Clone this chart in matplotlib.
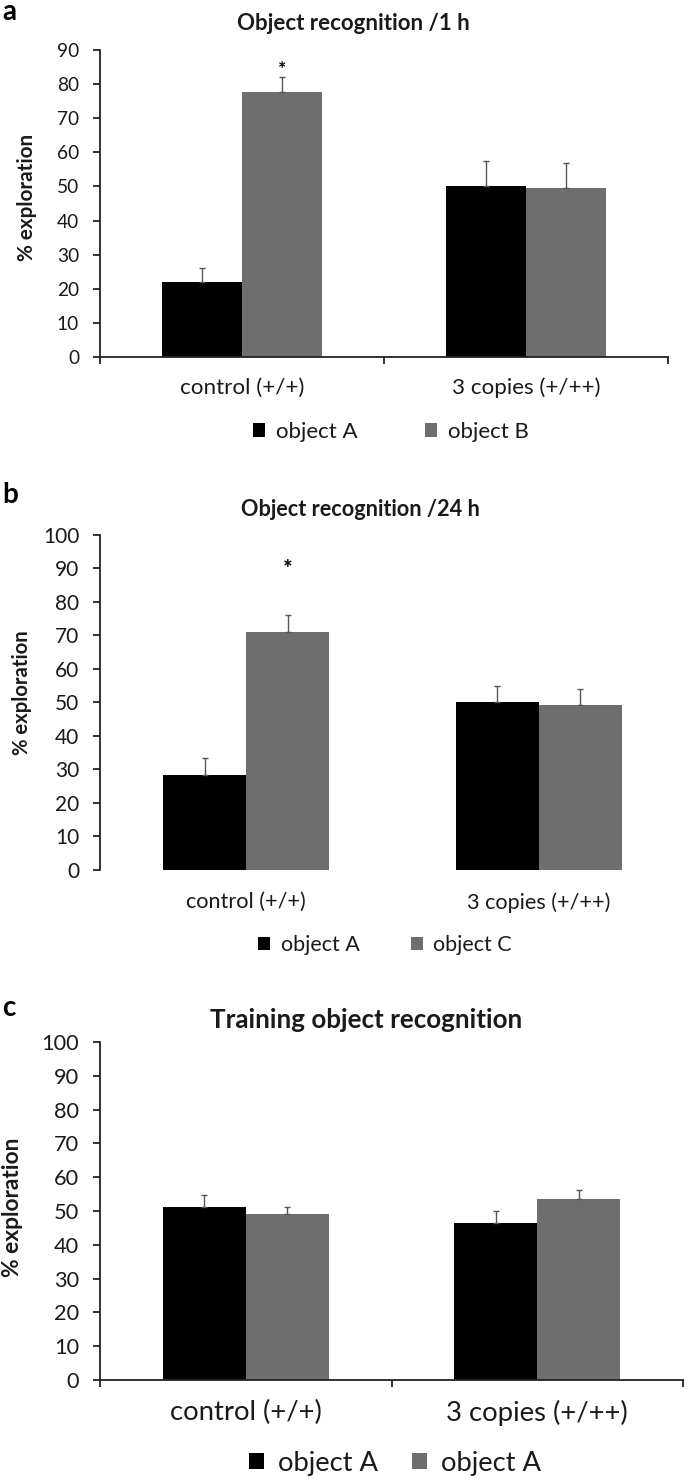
import numpy as np
import matplotlib
matplotlib.use('Agg')
import matplotlib.pyplot as plt
from matplotlib.patches import Patch

plt.rcParams['font.family'] = ['Lato', 'DejaVu Sans']

# categories et séries
groups = ['control (+/+)', '3 copies (+/++)']

# a : reconnaissance d'objet / 1 h
a_objA = [22.0, 50.2]
a_objA_err = [4.2, 7.3]
a_objB = [77.8, 49.5]
a_objB_err = [4.2, 7.3]
a_labels = ['object A', 'object B']

# b : reconnaissance d'objet / 24 h
b_objA = [28.4, 50.2]
b_objA_err = [4.9, 4.7]
b_objC = [71.1, 49.3]
b_objC_err = [5.0, 4.7]
b_labels = ['object A', 'object C']

# c : entraînement
c_objA1 = [51.2, 46.5]
c_objA1_err = [3.4, 3.5]
c_objA2 = [49.0, 53.5]
c_objA2_err = [2.3, 2.7]
c_labels = ['object A', 'object A']

black = '#000000'
grey = '#6e6e6e'
txt = '#1a1a1a'

W, H = 689, 1484
fig = plt.figure(figsize=(W / 100, H / 100), dpi=100)
renderer = fig.canvas.get_renderer()


def fit(s, width_px, weight='normal'):
    # taille de police (pt) pour que le texte fasse width_px de large
    t = fig.text(0, 0, s, fontsize=10, fontweight=weight)
    w = t.get_window_extent(renderer).width
    t.remove()
    return 10 * width_px / w


def rect(x0, x1, ytop, ybot):
    return [x0 / W, 1 - ybot / H, (x1 - x0) / W, (ybot - ytop) / H]


def panel(ax, s1, e1, s2, e2, ymax, width, tick_fs, cat_fs, cat_pad, xaxis=True):
    x = np.arange(len(groups))
    ax.bar(x - width / 2, s1, width, color=black, zorder=2)
    ax.bar(x + width / 2, s2, width, color=grey, zorder=2)
    ax.errorbar(x - width / 2, s1, yerr=[np.zeros(len(e1)), e1], fmt='none',
                ecolor='#555555', elinewidth=1, capsize=2.5, capthick=1, zorder=3)
    ax.errorbar(x + width / 2, s2, yerr=[np.zeros(len(e2)), e2], fmt='none',
                ecolor='#555555', elinewidth=1, capsize=2.5, capthick=1, zorder=3)
    ax.set_xlim(-0.5, 1.5)
    ax.set_ylim(0, ymax)
    ax.set_yticks(np.arange(0, ymax + 1, 10))
    ax.spines['top'].set_visible(False)
    ax.spines['right'].set_visible(False)
    ax.spines['left'].set_color('#222222')
    ax.spines['left'].set_linewidth(1.3)
    ax.tick_params(axis='y', length=5, width=1.3, color='#222222', labelsize=tick_fs,
                   labelcolor=txt, pad=10)
    ax.set_xticks(x)
    ax.set_xticklabels(groups, fontsize=cat_fs, color=txt)
    ax.tick_params(axis='x', which='major', length=0, pad=cat_pad)
    if xaxis:
        ax.spines['bottom'].set_color('#222222')
        ax.spines['bottom'].set_linewidth(1.3)
        ax.set_xticks([-0.5, 0.5, 1.5], minor=True)
        ax.tick_params(axis='x', which='minor', length=5, width=1.3, color='#222222')
    else:
        ax.spines['bottom'].set_visible(False)


# panneau a
ax1 = fig.add_axes(rect(100, 668, 50, 357))
panel(ax1, a_objA, a_objA_err, a_objB, a_objB_err, 90, 0.28,
      fit('90', 22), fit('3 copies (+/++)', 148), 15)
ax1.text(0.14, 84.2, '*', ha='center', va='center', fontsize=14, fontweight='bold')

# panneau b
ax2 = fig.add_axes(rect(100, 685, 535, 870))
panel(ax2, b_objA, b_objA_err, b_objC, b_objC_err, 100, 0.284,
      fit('90', 24), fit('3 copies (+/++)', 143), 16, xaxis=False)
ax2.text(0.142, 89.6, '*', ha='center', va='center', fontsize=16, fontweight='bold')

# panneau c
ax3 = fig.add_axes(rect(100, 683, 1042, 1380))
panel(ax3, c_objA1, c_objA1_err, c_objA2, c_objA2_err, 100, 0.285,
      fit('90', 25), fit('3 copies (+/++)', 182), 14)

# titres
for s, xx, yy, wpx in [('Object recognition /1 h', 353, 23, 233),
                       ('Object recognition /24 h', 360, 510, 239),
                       ('Training object recognition', 366, 1020, 312)]:
    fig.text(xx / W, 1 - yy / H, s, ha='center', va='center',
             fontsize=fit(s, wpx, 'bold'), fontweight='bold', color=txt)

# lettres des panneaux
for lab, yy in [('a', 12), ('b', 495), ('c', 1008)]:
    fig.text(2 / W, 1 - yy / H, lab, ha='left', va='center', fontsize=20,
             fontweight='bold')

# titres des axes y
for xx, yy, hpx in [(27, 197, 127), (22, 693, 125), (13, 1207, 140)]:
    fig.text(xx / W, 1 - yy / H, '% exploration', rotation=90, ha='center',
             va='center', fontsize=fit('% exploration', hpx, 'bold'),
             fontweight='bold', color=txt)

# légendes
for labels, yy, xc, wpx, cs in [(a_labels, 432, 391, 82, 3.0),
                                (b_labels, 945, 385, 79, 2.4),
                                (c_labels, 1463, 395, 101, 1.25)]:
    fs = fit('object A', wpx)
    handles = [Patch(facecolor=black), Patch(facecolor=grey)]
    fig.legend(handles, labels, loc='center', bbox_to_anchor=(xc / W, 1 - yy / H),
               ncol=2, frameon=False, fontsize=fs, handlelength=0.55,
               handleheight=0.55, handletextpad=0.5, columnspacing=cs,
               labelcolor=txt)

plt.savefig('out.png', dpi=100)
